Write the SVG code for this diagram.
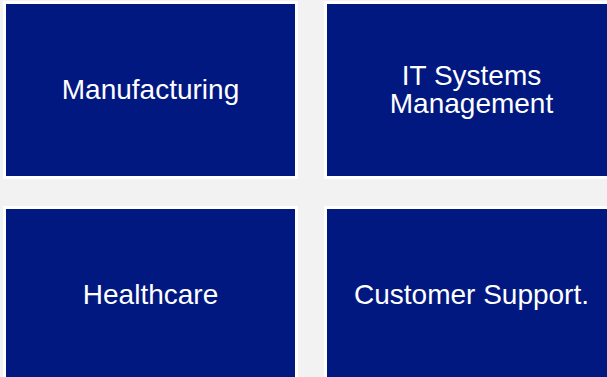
<svg xmlns="http://www.w3.org/2000/svg" width="607" height="377" viewBox="0 0 607 377">
<style>
.box{fill:#001880;stroke:#ffffff;stroke-width:3}
.lbl{font-family:"Liberation Sans",Arial,sans-serif;font-size:28px;fill:#ffffff;text-anchor:middle}
</style>
<rect x="0" y="0" width="607" height="377" fill="#f2f2f2"/>
<g id="connectors"></g>
<g id="node-manufacturing">
<rect class="box" x="4.5" y="2.5" width="292" height="175"/>
<text class="lbl" x="150.5" y="99">Manufacturing</text>
</g>
<g id="node-it-systems">
<rect class="box" x="325.5" y="2.5" width="292" height="175"/>
<text class="lbl" x="471.5" y="84.5">IT Systems</text>
<text class="lbl" x="471.5" y="112.5">Management</text>
</g>
<g id="node-healthcare">
<rect class="box" x="4.5" y="207.5" width="292" height="175"/>
<text class="lbl" x="150.5" y="303.5">Healthcare</text>
</g>
<g id="node-customer-support">
<rect class="box" x="325.5" y="207.5" width="292" height="175"/>
<text class="lbl" x="471.5" y="303.5">Customer Support.</text>
</g>
</svg>
